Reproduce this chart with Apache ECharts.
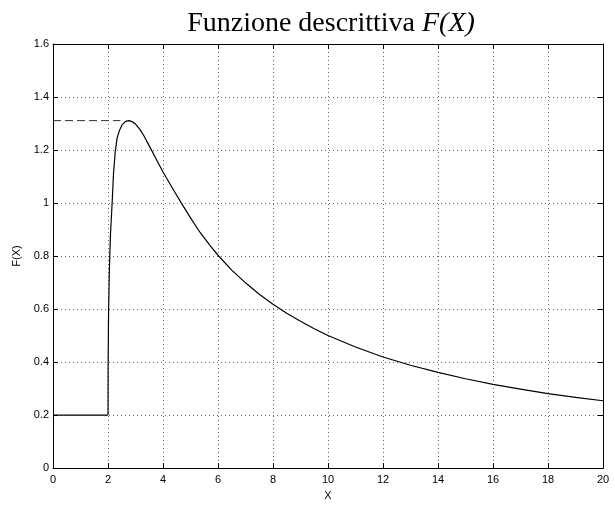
<!DOCTYPE html>
<html>
<head>
<meta charset="utf-8">
<script src="https://cdn.jsdelivr.net/npm/echarts@6/dist/echarts.min.js"></script>
<style>html,body{margin:0;padding:0;background:#fff}#c{width:615px;height:506px}</style>
</head>
<body>
<div id="c"></div>
<script>
// Values
var flatX = [0, 2];
var flatY = [0.2, 0.2];
var curveX = [2.00, 2.005, 2.02, 2.05, 2.09, 2.15, 2.20, 2.26, 2.33, 2.42, 2.52, 2.64, 2.76, 2.90, 3.00, 3.16, 3.30, 3.53, 3.75, 4.00, 4.35, 4.68, 5.00, 5.35, 5.70, 6.00, 6.50, 7.00, 7.50, 8.00, 8.50, 9.00, 9.50, 10.00, 11.00, 12.00, 13.00, 14.00, 15.00, 16.00, 17.00, 18.00, 19.00, 20.00];
var curveY = [0.20, 0.40, 0.58, 0.75, 0.88, 1.00, 1.11, 1.19, 1.245, 1.275, 1.296, 1.308, 1.311, 1.306, 1.298, 1.278, 1.255, 1.210, 1.166, 1.117, 1.055, 0.998, 0.944, 0.889, 0.841, 0.803, 0.747, 0.699, 0.656, 0.618, 0.584, 0.554, 0.526, 0.500, 0.457, 0.419, 0.388, 0.361, 0.337, 0.316, 0.298, 0.281, 0.267, 0.254];
var peakLineX = [0, 2.45];
var peakLineY = [1.311, 1.311];
var xTicks = {min: 0, max: 20, step: 2};
var yTicks = {min: 0, max: 1.6, step: 0.2};
var titleMain = 'Funzione descrittiva ';
var titleVar = 'F(X)';
var xName = 'X';
var yName = 'F(X)';

function pairs(xs, ys) { return xs.map(function (x, i) { return [x, ys[i]]; }); }

var sans = "'Liberation Sans', Arial, Helvetica, sans-serif";
var serif = "'Liberation Serif', 'Times New Roman', serif";
var gridLine = {show: true, lineStyle: {color: '#666', type: [1, 3], width: 1}};
var axisLine = {show: true, onZero: false, lineStyle: {color: '#000', width: 1}};
var tick = {show: true, inside: true, length: 5, lineStyle: {color: '#000'}};

var chart = echarts.init(document.getElementById('c'), null, {renderer: 'canvas'});
chart.setOption({
  animation: false,
  backgroundColor: '#fff',
  title: {
    text: '{a|' + titleMain + '}{b|' + titleVar + '}',
    left: 326, top: 5, textAlign: 'center',
    textStyle: {
      fontWeight: 'normal',
      rich: {
        a: {fontFamily: serif, fontSize: 28, fontWeight: 'normal', color: '#000'},
        b: {fontFamily: serif, fontSize: 28, fontWeight: 'normal', fontStyle: 'italic', color: '#000'}
      }
    }
  },
  grid: {left: 53, right: 12, top: 44, bottom: 29, containLabel: false},
  xAxis: [{
    type: 'value', min: xTicks.min, max: xTicks.max, interval: xTicks.step,
    name: xName, nameLocation: 'middle', nameGap: 18,
    nameTextStyle: {fontFamily: sans, fontSize: 11, color: '#000'},
    axisLine: axisLine, axisTick: tick, splitLine: gridLine,
    axisLabel: {fontFamily: sans, fontSize: 11, color: '#000', margin: 6}
  }, {
    type: 'value', position: 'top', min: xTicks.min, max: xTicks.max, interval: xTicks.step,
    axisLine: axisLine, axisTick: tick, splitLine: {show: false}, axisLabel: {show: false}
  }],
  yAxis: [{
    type: 'value', min: yTicks.min, max: yTicks.max, interval: yTicks.step,
    name: yName, nameLocation: 'middle', nameGap: 27, nameRotate: 90,
    nameTextStyle: {fontFamily: sans, fontSize: 11, color: '#000'},
    axisLine: axisLine, axisTick: tick, splitLine: gridLine,
    axisLabel: {fontFamily: sans, fontSize: 11, color: '#000', margin: 4,
      formatter: function (v) { return String(Math.round(v * 10) / 10); }}
  }, {
    type: 'value', position: 'right', min: yTicks.min, max: yTicks.max, interval: yTicks.step,
    axisLine: axisLine, axisTick: tick, splitLine: {show: false}, axisLabel: {show: false}
  }],
  series: [{
    type: 'line', data: pairs(flatX, flatY), showSymbol: false, symbol: 'none',
    lineStyle: {color: '#000', width: 1.2}, z: 5
  }, {
    type: 'line', data: pairs(curveX, curveY), showSymbol: false, symbol: 'none',
    smooth: false,
    lineStyle: {color: '#000', width: 1.2, join: 'round'}, z: 5
  }, {
    type: 'line', data: pairs(peakLineX, peakLineY), showSymbol: false, symbol: 'none',
    lineStyle: {color: '#333', width: 1, type: [8, 4]}, z: 4
  }]
});
</script>
</body>
</html>
